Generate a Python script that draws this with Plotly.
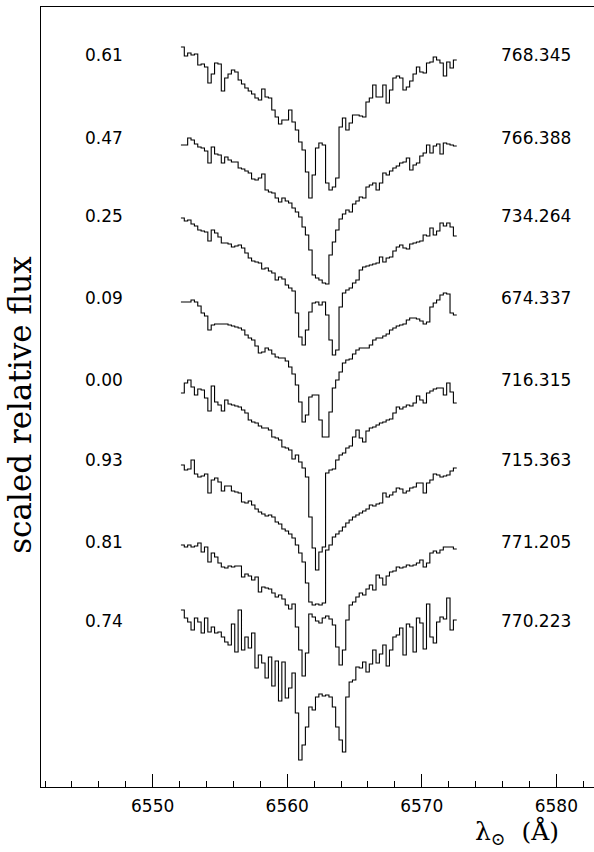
import numpy as np
import plotly.graph_objects as go

# wavelength grid of the spectra (Angstrom): first bin edge and bin width
WL_START = 6552.1
WL_STEP = 0.25

phases = ["0.61", "0.47", "0.25", "0.09", "0.00", "0.93", "0.81", "0.74"]
hjd = ["768.345", "766.388", "734.264", "674.337", "716.315", "715.363", "771.205", "770.223"]
label_levels = [7.32, 6.49, 5.71, 4.89, 4.07, 3.27, 2.45, 1.66]

# scaled (offset) relative flux, one value per wavelength bin
s061 = [7.40, 7.31, 7.34, 7.32, 7.33, 7.22, 7.23, 7.20, 7.04, 7.13,
        7.24, 7.23, 6.96, 7.09, 7.13, 7.17, 7.15, 7.07, 7.03, 6.99,
        6.96, 6.93, 6.89, 6.87, 6.98, 6.90, 6.89, 6.77, 6.70, 6.63,
        6.67, 6.67, 6.77, 6.65, 6.57, 6.45, 6.37, 6.15, 5.89, 6.12,
        6.39, 6.44, 6.42, 6.04, 5.97, 6.00, 6.09, 6.60, 6.69, 6.57,
        6.64, 6.72, 6.72, 6.71, 6.70, 6.85, 6.89, 7.02, 6.90, 6.90,
        7.02, 6.84, 6.97, 7.09, 7.11, 7.09, 6.97, 7.00, 7.06, 7.13,
        7.20, 7.15, 7.14, 7.24, 7.25, 7.30, 7.27, 7.24, 7.11, 7.25,
        7.19, 7.27]
s047 = [6.42, 6.42, 6.49, 6.47, 6.43, 6.40, 6.39, 6.36, 6.24, 6.40,
        6.33, 6.32, 6.24, 6.30, 6.27, 6.25, 6.25, 6.19, 6.18, 6.16,
        6.14, 6.08, 6.07, 6.09, 6.13, 5.97, 5.95, 5.94, 5.89, 5.85,
        5.89, 5.86, 5.84, 5.79, 5.75, 5.70, 5.60, 5.52, 5.37, 5.12,
        5.09, 5.07, 5.04, 5.03, 5.32, 5.45, 5.57, 5.68, 5.73, 5.77,
        5.75, 5.83, 5.86, 5.90, 5.89, 6.00, 6.02, 6.04, 5.97, 6.04,
        6.14, 6.12, 6.16, 6.19, 6.21, 6.24, 6.25, 6.29, 6.17, 6.22,
        6.24, 6.31, 6.34, 6.42, 6.34, 6.41, 6.43, 6.33, 6.44, 6.43,
        6.42, 6.41]
s025 = [5.69, 5.66, 5.67, 5.63, 5.61, 5.57, 5.56, 5.55, 5.46, 5.57,
        5.54, 5.50, 5.44, 5.44, 5.43, 5.40, 5.41, 5.42, 5.39, 5.34,
        5.29, 5.26, 5.25, 5.24, 5.18, 5.19, 5.16, 5.14, 5.07, 5.10,
        5.08, 5.02, 4.99, 4.96, 4.74, 4.50, 4.42, 4.57, 4.75, 4.84,
        4.85, 4.82, 4.85, 4.72, 4.47, 4.32, 4.37, 4.80, 4.94, 4.97,
        4.99, 5.04, 5.07, 5.17, 5.20, 5.21, 5.22, 5.23, 5.24, 5.30,
        5.25, 5.29, 5.30, 5.36, 5.40, 5.42, 5.39, 5.38, 5.43, 5.44,
        5.45, 5.46, 5.52, 5.51, 5.59, 5.52, 5.56, 5.64, 5.61, 5.64,
        5.60, 5.51]
s009 = [4.85, 4.85, 4.85, 4.87, 4.85, 4.81, 4.74, 4.71, 4.57, 4.62,
        4.63, 4.63, 4.63, 4.63, 4.62, 4.61, 4.60, 4.59, 4.57, 4.52,
        4.49, 4.47, 4.41, 4.34, 4.35, 4.39, 4.37, 4.33, 4.30, 4.29,
        4.29, 4.26, 4.20, 4.13, 4.02, 3.85, 3.65, 3.72, 3.90, 3.92,
        3.92, 3.67, 3.50, 3.50, 3.75, 3.99, 4.07, 4.15, 4.24, 4.27,
        4.28, 4.33, 4.37, 4.39, 4.39, 4.39, 4.42, 4.47, 4.49, 4.49,
        4.51, 4.53, 4.57, 4.59, 4.61, 4.62, 4.63, 4.67, 4.69, 4.69,
        4.68, 4.66, 4.63, 4.65, 4.80, 4.84, 4.87, 4.92, 4.94, 4.93,
        4.74, 4.72]
s000 = [3.94, 4.04, 4.07, 4.00, 3.92, 3.98, 3.97, 3.89, 3.76, 4.01,
        3.85, 3.82, 3.76, 3.87, 3.83, 3.82, 3.81, 3.80, 3.77, 3.74,
        3.67, 3.65, 3.64, 3.61, 3.59, 3.59, 3.57, 3.50, 3.49, 3.47,
        3.40, 3.39, 3.37, 3.28, 3.32, 3.25, 3.19, 3.10, 2.70, 2.39,
        2.17, 2.35, 2.40, 3.14, 3.17, 3.18, 3.27, 3.32, 3.34, 3.39,
        3.41, 3.50, 3.57, 3.49, 3.45, 3.56, 3.59, 3.60, 3.62, 3.64,
        3.65, 3.67, 3.68, 3.74, 3.80, 3.78, 3.80, 3.82, 3.81, 3.84,
        3.91, 3.87, 3.84, 3.94, 3.96, 3.98, 3.99, 3.99, 3.92, 4.04,
        3.95, 3.84]
s093 = [3.22, 3.17, 3.18, 3.27, 3.13, 3.10, 3.11, 3.13, 2.94, 3.07,
        3.09, 3.05, 2.96, 3.01, 3.01, 2.96, 2.95, 2.94, 2.85, 2.84,
        2.86, 2.82, 2.78, 2.75, 2.73, 2.71, 2.72, 2.70, 2.65, 2.63,
        2.58, 2.56, 2.53, 2.49, 2.42, 2.34, 2.25, 2.04, 1.85, 1.82,
        1.83, 1.82, 1.84, 2.37, 2.42, 2.50, 2.53, 2.56, 2.60, 2.64,
        2.67, 2.70, 2.72, 2.74, 2.76, 2.78, 2.82, 2.81, 2.83, 2.84,
        2.94, 2.90, 2.92, 2.95, 2.99, 2.98, 2.94, 2.96, 2.99, 3.00,
        3.04, 3.04, 2.94, 3.04, 3.07, 3.13, 3.12, 3.10, 3.11, 3.12,
        3.16, 3.19]
s081 = [2.42, 2.40, 2.42, 2.40, 2.41, 2.44, 2.35, 2.40, 2.25, 2.34,
        2.30, 2.24, 2.20, 2.19, 2.21, 2.20, 2.21, 2.21, 2.10, 2.13,
        2.11, 2.07, 2.10, 1.95, 2.00, 1.99, 1.98, 1.94, 1.90, 1.92,
        1.88, 1.82, 1.78, 1.83, 1.60, 1.37, 1.11, 1.34, 1.73, 1.70,
        1.66, 1.64, 1.69, 1.71, 1.68, 1.62, 1.40, 1.22, 1.37, 1.67,
        1.82, 1.85, 1.90, 1.94, 1.92, 1.98, 2.02, 1.97, 2.12, 2.09,
        2.02, 2.11, 2.15, 2.16, 2.20, 2.19, 2.20, 2.22, 2.21, 2.22,
        2.24, 2.27, 2.20, 2.24, 2.34, 2.36, 2.34, 2.37, 2.40, 2.40,
        2.40, 2.38]
s074 = [1.77, 1.69, 1.65, 1.57, 1.69, 1.65, 1.54, 1.69, 1.55, 1.60,
        1.54, 1.55, 1.50, 1.45, 1.42, 1.63, 1.35, 1.77, 1.37, 1.50,
        1.39, 1.54, 1.19, 1.32, 1.24, 1.09, 1.30, 1.01, 1.26, 0.86,
        1.25, 0.89, 0.99, 1.14, 0.74, 0.27, 0.42, 0.60, 0.80, 0.77,
        0.90, 0.93, 0.91, 0.92, 0.90, 0.80, 0.60, 0.47, 0.35, 0.90,
        1.05, 1.07, 1.20, 1.19, 1.25, 1.15, 1.23, 1.37, 1.24, 1.33,
        1.42, 1.21, 1.37, 1.50, 1.52, 1.59, 1.32, 1.63, 1.60, 1.35,
        1.69, 1.64, 1.38, 1.83, 1.50, 1.44, 1.65, 1.70, 1.68, 1.89,
        1.57, 1.67]

spectra = [s061, s047, s025, s009, s000, s093, s081, s074]

fig = go.Figure()
for vals in spectra:
    edges = WL_START + WL_STEP * np.arange(len(vals) + 1)
    fig.add_trace(go.Scatter(
        x=edges, y=list(vals) + [vals[-1]], mode="lines",
        line=dict(color="black", width=1.1, shape="hv"),
        hoverinfo="skip", showlegend=False))

label_font = dict(family="DejaVu Sans", size=17, color="black")
annotations = []
for ph, hj, lev in zip(phases, hjd, label_levels):
    annotations.append(dict(x=6546.35, y=lev, xref="x", yref="y", text=ph,
                            showarrow=False, font=label_font, xanchor="center", yanchor="middle"))
    annotations.append(dict(x=6578.5, y=lev, xref="x", yref="y", text=hj,
                            showarrow=False, font=label_font, xanchor="center", yanchor="middle"))

annotations.append(dict(x=-0.038, y=0.49, xref="paper", yref="paper",
                        text="scaled relative flux", textangle=-90, showarrow=False,
                        font=dict(family="DejaVu Serif", size=31, color="black"),
                        xanchor="center", yanchor="middle"))
annotations.append(dict(x=0.861, y=-0.058, xref="paper", yref="paper",
                        text="λ<sub>⊙</sub>  (Å)", showarrow=False,
                        font=dict(family="DejaVu Serif", size=25, color="black"),
                        xanchor="center", yanchor="middle"))

fig.update_layout(
    width=594, height=852,
    margin=dict(l=41, r=0, t=7, b=65, pad=0),
    paper_bgcolor="white", plot_bgcolor="white",
    annotations=annotations,
    xaxis=dict(range=[6541.7, 6582.8], showline=True, linecolor="black", linewidth=1,
               mirror=True, ticks="inside", ticklen=13, tickwidth=1, tickcolor="black",
               tick0=6550, dtick=10, showgrid=False, zeroline=False,
               ticklabelstandoff=4,
               tickfont=dict(family="DejaVu Sans", size=17, color="black"),
               minor=dict(tick0=6540, dtick=2, ticks="inside", ticklen=6,
                          tickcolor="black", tickwidth=1, showgrid=False)),
    yaxis=dict(range=[0, 7.8], showline=True, linecolor="black", linewidth=1,
               showticklabels=False, ticks="", showgrid=False, zeroline=False),
)

fig.write_html("out.html", config={"displayModeBar": False, "staticPlot": True},
               post_script="document.body.style.margin='0';document.body.style.padding='0';")
